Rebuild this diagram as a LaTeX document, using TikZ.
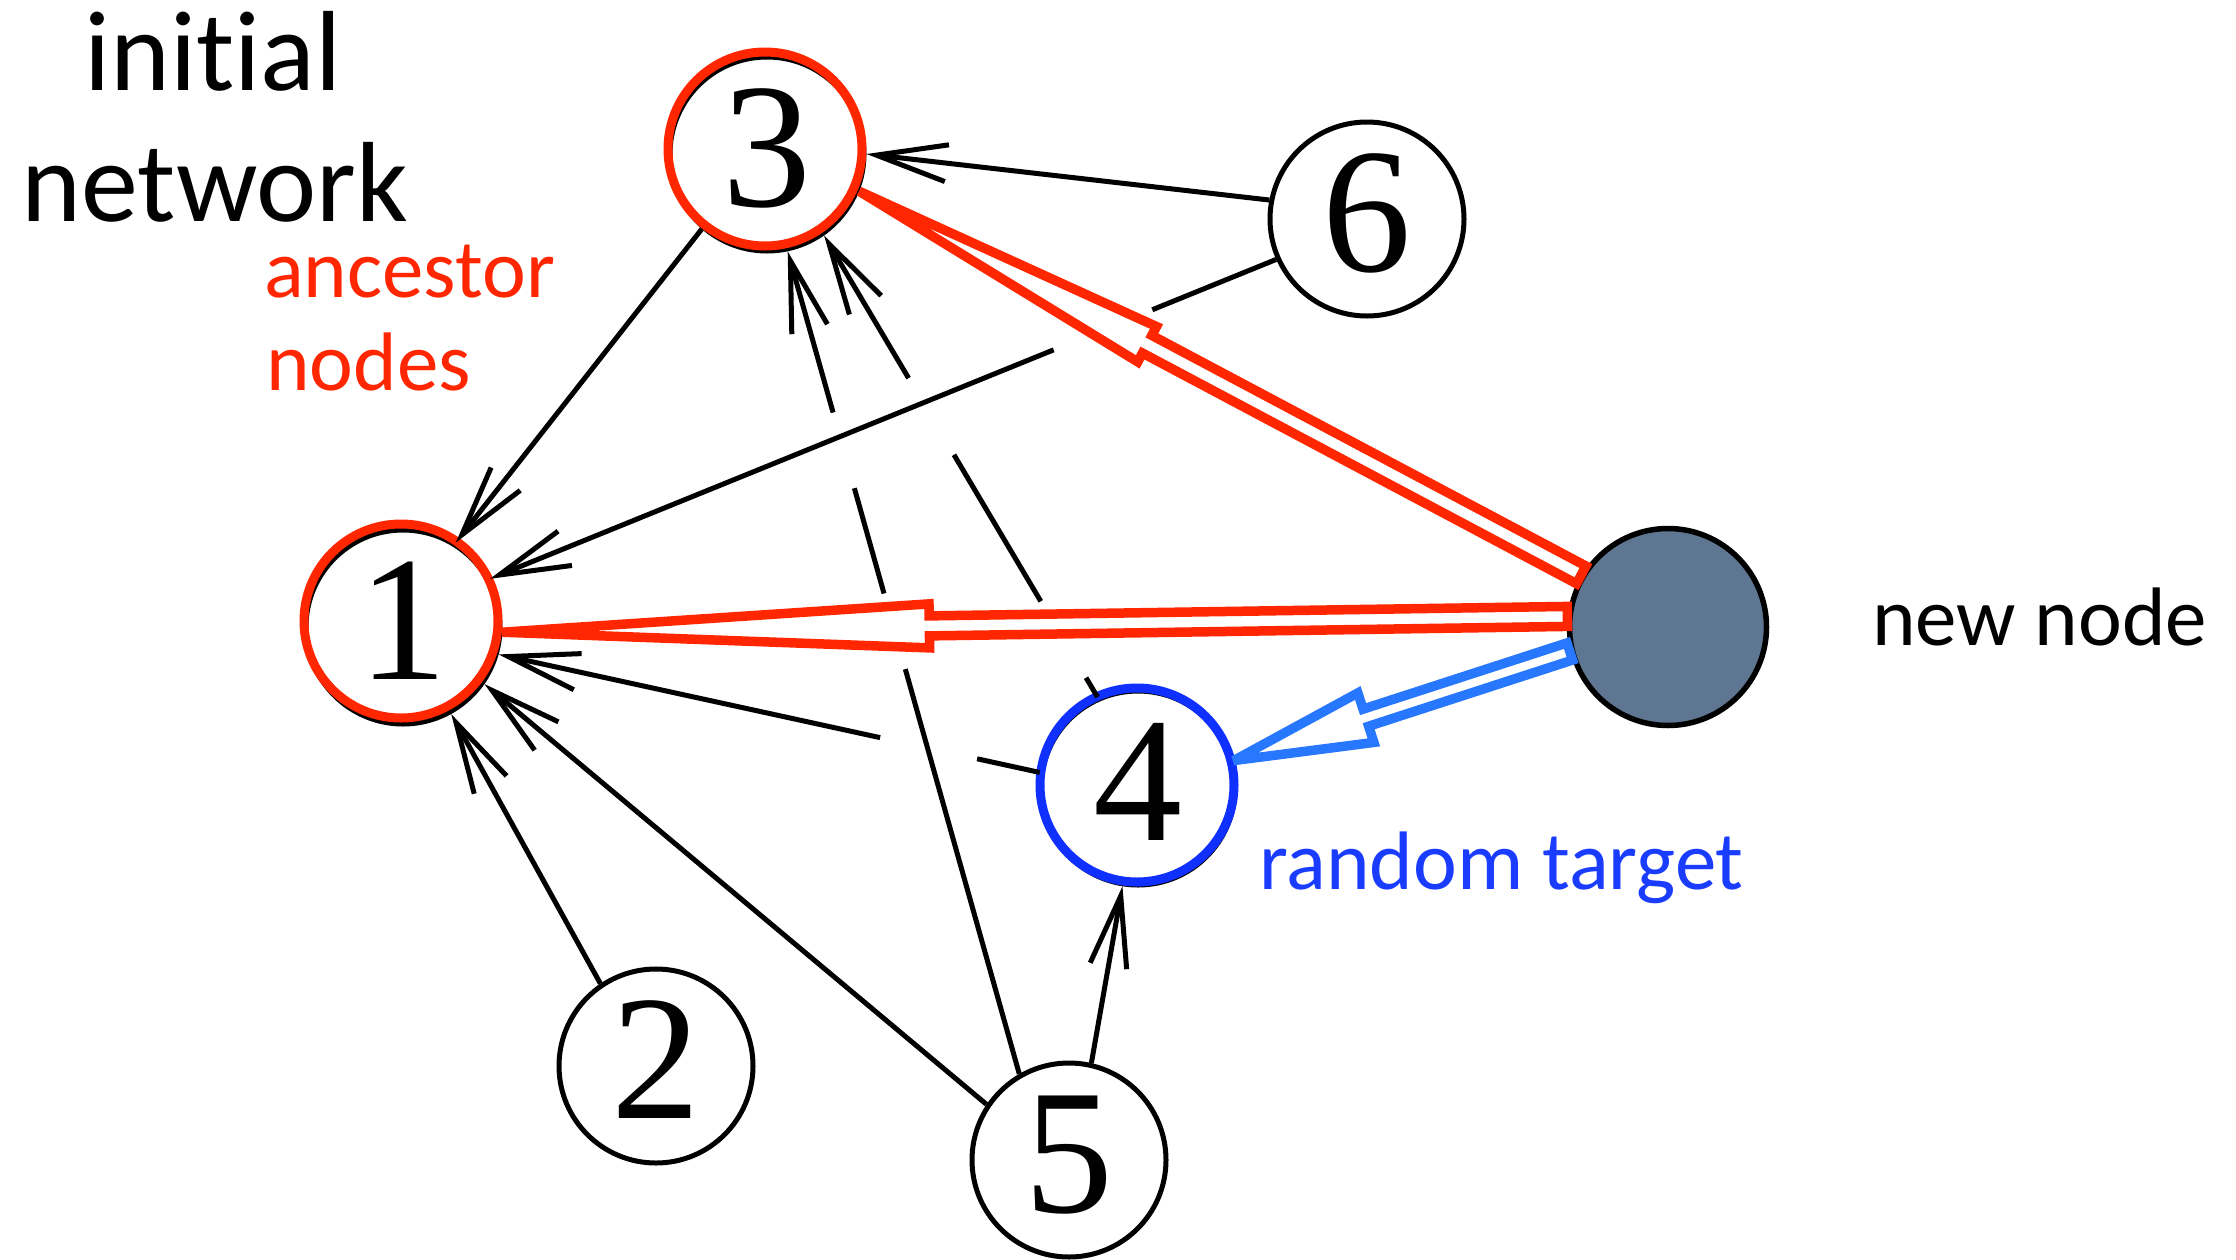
\documentclass[tikz,border=0pt]{standalone}
\usepackage{fontspec}
\setmainfont{Carlito}[Ligatures=NoCommon]
\newfontfamily\numfont{Liberation Serif}
\usetikzlibrary{arrows.meta,calc}

\definecolor{ancred}{RGB}{255,38,0}
\definecolor{ringblue}{RGB}{16,48,255}
\definecolor{arrowblue}{RGB}{40,120,255}
\definecolor{textblue}{RGB}{26,60,255}
\definecolor{newfill}{RGB}{94,118,146}

% Hollow block arrow: #1 colour, #2 tail, #3 tip, #4 head length,
% #5 head half-width, #6 shaft half-width
\newcommand\hollowarrow[6]{%
  \path ($(#3)!#4!(#2)$) coordinate (hb);
  \draw[hollowarr,draw=#1] ($(#2)!#6!90:(#3)$) -- ($(hb)!#6!90:(#3)$)
    -- ($(hb)!#5!90:(#3)$) -- (#3) -- ($(hb)!#5!-90:(#3)$)
    -- ($(hb)!#6!-90:(#3)$) -- ($(#2)!#6!-90:(#3)$) -- cycle;
}

\begin{document}
\begin{tikzpicture}[x=1pt,y=-1pt,
  vertex/.style={circle, draw=black, line width=5pt, fill=white,
    minimum size=194pt, inner sep=0pt, text depth=12pt,
    font=\numfont\fontsize{178}{178}\selectfont},
  link/.style={line width=5pt, draw=black},
  headed/.style={-{Straight Barb[length=71pt,width=37pt]}},
  colring/.style={line width=9pt},
  hollowarr/.style={line width=9.5pt, miter limit=4, fill=white},
  bigtext/.style={font=\fontsize{114}{114}\selectfont, inner sep=0pt},
  lbl/.style={font=\fontsize{83}{83}\selectfont, inner sep=0pt}
]
\path[use as bounding box, fill=white] (0,0) rectangle (2236,1259);

% vertices of the initial network
\node[vertex] (n1) at (403,627) {1};
\node[vertex] (n2) at (656,1066) {2};
\node[vertex] (n3) at (767,154) {3};
\node[vertex] (n4) at (1138,788) {4};
\node[vertex] (n5) at (1069,1160) {5};
\node[vertex] (n6) at (1367,219) {6};
\node[circle, draw=black, line width=5.5pt, fill=newfill, minimum size=197pt,
      inner sep=0pt] (new) at (1668,627) {};

% highlighted rings
\draw[colring, ancred] ($(n3.center)+(-2,-5)$) circle[radius=97];
\draw[colring, ancred] ($(n1.center)+(-2,-6)$) circle[radius=97];
\draw[colring, ringblue] ($(n4.center)+(-1,-3)$) circle[radius=97];

% links of the initial network
\draw[link,headed] (n3.229) -- (n1.58);
\draw[link,headed] (n6.169) -- (n3.0);
\draw[link,headed] (n2.124) -- (n1.299);
\draw[link,headed] (n5.146) -- (n1.325);
\draw[link,headed] (n5.77) -- (n4.261);

\draw[link] (n6.204) -- ($(n6.204)!0.1575!(n1.29)$);
\draw[link,headed] ($(n6.204)!0.283!(n1.29)$) -- (n1.29);

\draw[link] (n5.120) -- ($(n5.120)!0.492!(n3.282)$);
\draw[link] ($(n5.120)!0.584!(n3.282)$) -- ($(n5.120)!0.712!(n3.282)$);
\draw[link,headed] ($(n5.120)!0.804!(n3.282)$) -- (n3.282);

\draw[link] (n4.114) -- ($(n4.114)!0.042!(n3.305)$);
\draw[link] ($(n4.114)!0.2075!(n3.305)$) -- ($(n4.114)!0.525!(n3.305)$);
\draw[link,headed] ($(n4.114)!0.691!(n3.305)$) -- (n3.305);

\draw[link] (n4.171) -- ($(n4.171)!0.1157!(n1.344)$);
\draw[link,headed] ($(n4.171)!0.295!(n1.344)$) -- (n1.344);

% links of the new node
\hollowarrow{ancred}{new.174}{n1.357}{427pt}{22pt}{10pt}
\hollowarrow{ancred}{new.149}{n3.338}{326pt}{20pt}{10pt}
\hollowarrow{arrowblue}{new.194}{n4.16}{139pt}{26pt}{9pt}

% captions
\node[bigtext, anchor=base] (ini) at (213,90) {initial};
\node[bigtext, anchor=base] (net) at (215,221) {network};
\node[lbl, anchor=base west, text=ancred] (anc) at (264,297) {ancestor};
\node[lbl, anchor=base west, text=ancred] (nod) at (266,390) {nodes};
\node[lbl, anchor=base west] (nn) at (1872,645) {new node};
\node[lbl, anchor=base west, text=textblue] (rt) at (1259,889) {random target};
\end{tikzpicture}
\end{document}
